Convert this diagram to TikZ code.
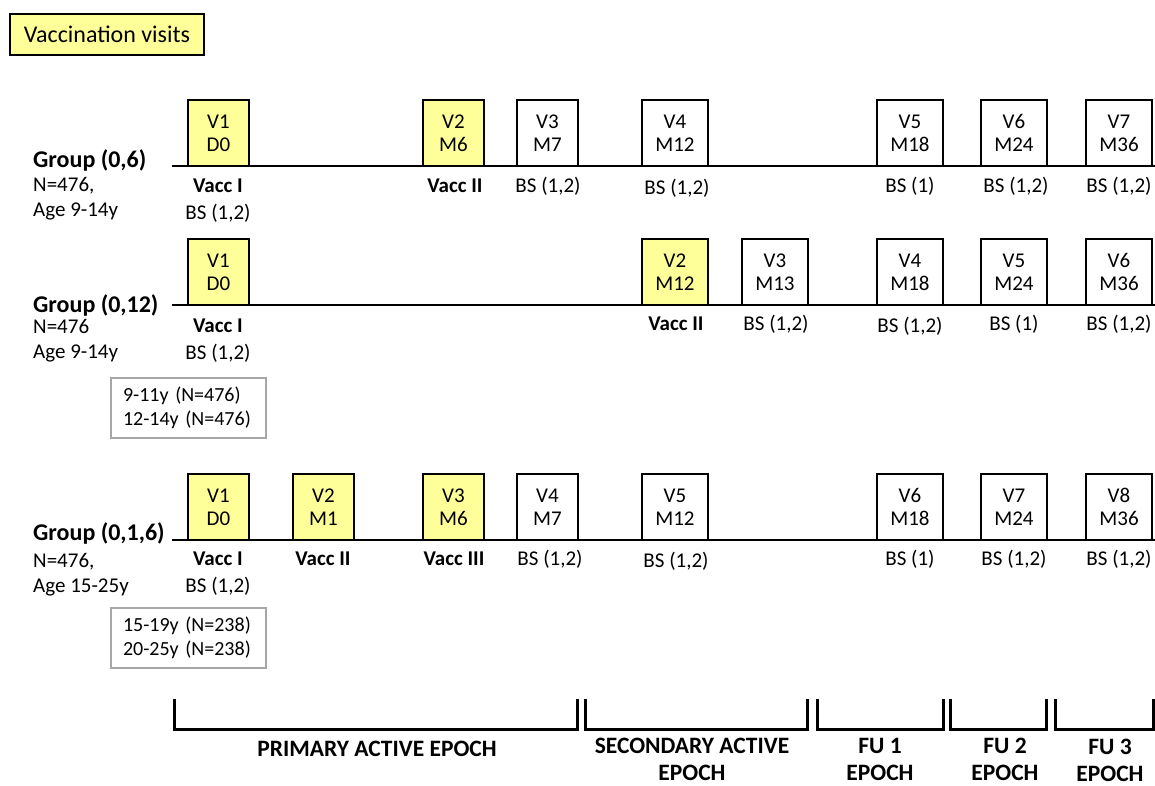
\documentclass[tikz,border=0pt]{standalone}
\usepackage{fontspec}
\setmainfont{Carlito}
\definecolor{vyellow}{RGB}{255,255,153}
\definecolor{agegray}{RGB}{166,166,166}
\begin{document}
\begin{tikzpicture}[x=1pt,y=-1pt,
  visit/.style={draw=black, fill=white, line width=2.5pt, minimum width=61pt, minimum height=66pt,
    inner sep=0pt, align=center, font=\fontsize{21}{23}\selectfont},
  wide/.style={minimum width=66pt},
  vacc/.style={visit, fill=vyellow},
  lbl/.style={inner sep=0pt, font=\fontsize{21}{24}\selectfont},
  blbl/.style={inner sep=0pt, font=\fontsize{21}{24}\selectfont\bfseries},
  grp/.style={anchor=west, inner sep=0pt, font=\fontsize{24}{28}\selectfont\bfseries},
  info/.style={anchor=west, inner sep=0pt, align=left, font=\fontsize{21}{25}\selectfont},
  agebox/.style={draw=agegray, line width=2pt, text width=131pt, inner xsep=12pt, inner ysep=0pt,
    minimum height=60pt, align=left, font=\fontsize{20}{24}\selectfont},
  timeline/.style={line width=2pt},
  bracket/.style={line width=3pt},
  epoch/.style={inner sep=0pt, align=center, font=\fontsize{23.5}{27}\selectfont\bfseries}]
\useasboundingbox (0,0) rectangle (1155,786);

% legend
\node[draw=black, fill=vyellow, line width=2.5pt, minimum width=194pt, minimum height=41pt, inner sep=0pt,
  font=\fontsize{24}{28}\selectfont] (legend) at (107,34.5) {Vaccination visits};

% timelines
\coordinate (l1s) at (172,166); \coordinate (l1e) at (1155,166);
\coordinate (l2s) at (172,305); \coordinate (l2e) at (1155,305);
\coordinate (l3s) at (172,540); \coordinate (l3e) at (1155,540);
\draw[timeline] (l1s) -- (l1e);
\draw[timeline] (l2s) -- (l2e);
\draw[timeline] (l3s) -- (l3e);

% ---------- Group (0,6)
\node[grp] (g1) at (33,160) {Group (0,6)};
\node[info] (g1i) at (33,198.5) {N=476,\\Age 9-14y};
\node[vacc] (a1) at (218.5,133) {V1\\D0};
\node[vacc] (a2) at (453.5,133) {V2\\M6};
\node[visit] (a3) at (547.5,133) {V3\\M7};
\node[visit,wide] (a4) at (675,133) {V4\\M12};
\node[visit,wide] (a5) at (910,133) {V5\\M18};
\node[visit,wide] (a6) at (1014,133) {V6\\M24};
\node[visit,wide] (a7) at (1119,133) {V7\\M36};
\node[blbl] (a1v) at (218,186) {Vacc I};
\node[lbl] (a1b) at (218,213) {BS (1,2)};
\node[blbl] (a2v) at (455,186) {Vacc II};
\node[lbl] (a3b) at (548,186) {BS (1,2)};
\node[lbl] (a4b) at (677,188) {BS (1,2)};
\node[lbl] (a5b) at (910,186) {BS (1)};
\node[lbl] (a6b) at (1016,186) {BS (1,2)};
\node[lbl] (a7b) at (1119,186) {BS (1,2)};

% ---------- Group (0,12)
\node[grp] (g2) at (33,305) {Group (0,12)};
\node[info] (g2i) at (33,340.5) {N=476\\Age 9-14y};
\node[vacc] (b1) at (218.5,272) {V1\\D0};
\node[vacc,wide] (b2) at (675,272) {V2\\M12};
\node[visit,wide] (b3) at (775,272) {V3\\M13};
\node[visit,wide] (b4) at (910,272) {V4\\M18};
\node[visit,wide] (b5) at (1014,272) {V5\\M24};
\node[visit,wide] (b6) at (1119,272) {V6\\M36};
\node[blbl] (b1v) at (218,326) {Vacc I};
\node[lbl] (b1b) at (218,353) {BS (1,2)};
\node[blbl] (b2v) at (676,324) {Vacc II};
\node[lbl] (b3b) at (776,324) {BS (1,2)};
\node[lbl] (b4b) at (910,326) {BS (1,2)};
\node[lbl] (b5b) at (1014,324) {BS (1)};
\node[lbl] (b6b) at (1119,324) {BS (1,2)};
\node[agebox] (age1) at (188.5,408) {9-11y (N=476)\\12-14y (N=476)};

% ---------- Group (0,1,6)
\node[grp] (g3) at (33,533) {Group (0,1,6)};
\node[info] (g3i) at (33,575) {N=476,\\Age 15-25y};
\node[vacc] (c1) at (218.5,507) {V1\\D0};
\node[vacc] (c2) at (323.5,507) {V2\\M1};
\node[vacc] (c3) at (453.5,507) {V3\\M6};
\node[visit] (c4) at (547.5,507) {V4\\M7};
\node[visit,wide] (c5) at (675,507) {V5\\M12};
\node[visit,wide] (c6) at (910,507) {V6\\M18};
\node[visit,wide] (c7) at (1014,507) {V7\\M24};
\node[visit,wide] (c8) at (1119,507) {V8\\M36};
\node[blbl] (c1v) at (218,559) {Vacc I};
\node[lbl] (c1b) at (218,586) {BS (1,2)};
\node[blbl] (c2v) at (323,559) {Vacc II};
\node[blbl] (c3v) at (454,559) {Vacc III};
\node[lbl] (c4b) at (550,559) {BS (1,2)};
\node[lbl] (c5b) at (676,561) {BS (1,2)};
\node[lbl] (c6b) at (910,559) {BS (1)};
\node[lbl] (c7b) at (1014,559) {BS (1,2)};
\node[lbl] (c8b) at (1119,559) {BS (1,2)};
\node[agebox] (age2) at (188.5,638) {15-19y (N=238)\\20-25y (N=238)};

% ---------- epochs
\foreach \n/\xa/\xb in {1/174/577, 2/585/807, 3/817/943, 4/950/1046, 5/1055/1153}{
  \coordinate (e\n a) at (\xa,699);
  \coordinate (e\n b) at (\xa,729);
  \coordinate (e\n c) at (\xb,729);
  \coordinate (e\n d) at (\xb,699);
  \draw[bracket, line join=miter] (e\n a) -- (e\n b) -- (e\n c) -- (e\n d);
}
\node[epoch] (ep1) at (377,749) {PRIMARY ACTIVE EPOCH};
\node[epoch] (ep2) at (692,759.5) {SECONDARY ACTIVE\\EPOCH};
\node[epoch] (ep3) at (880,759.5) {FU 1\\EPOCH};
\node[epoch] (ep4) at (1005,759.5) {FU 2\\EPOCH};
\node[epoch] (ep5) at (1110,760.5) {FU 3\\EPOCH};
\end{tikzpicture}
\end{document}
